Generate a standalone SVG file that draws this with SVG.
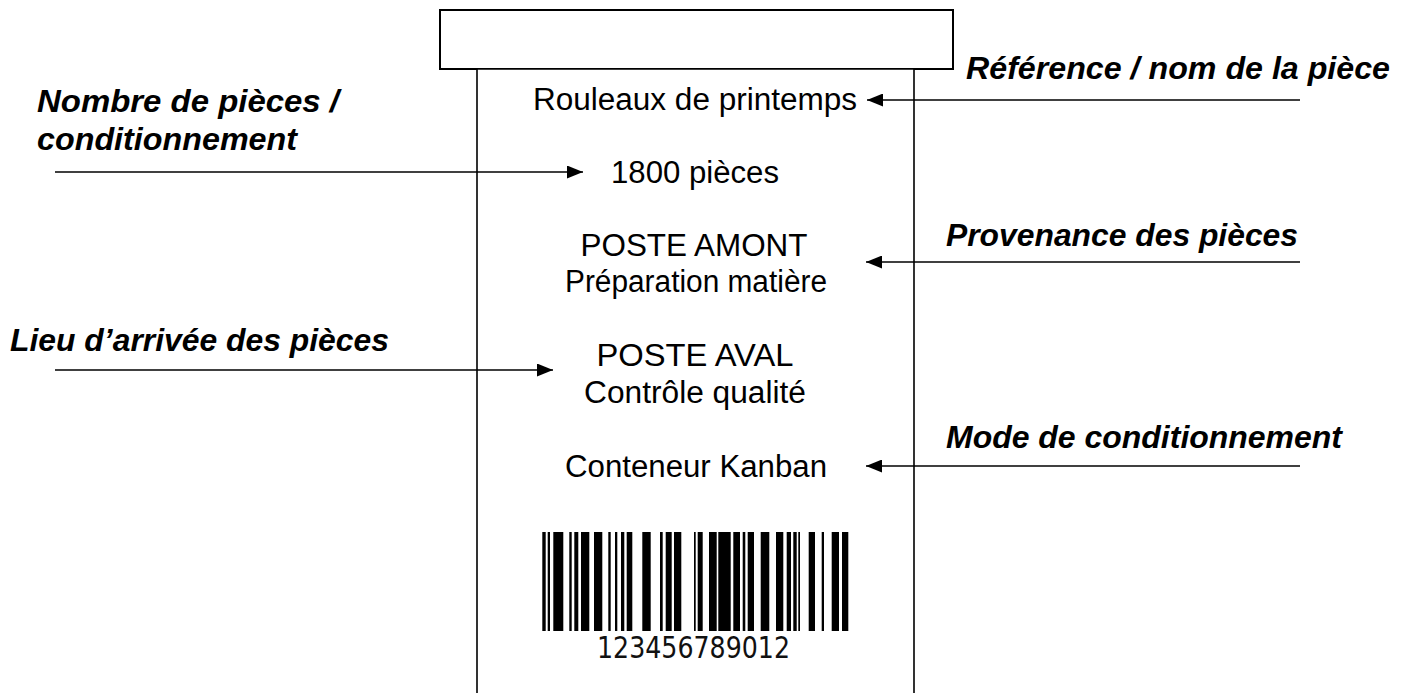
<svg xmlns="http://www.w3.org/2000/svg" width="1406" height="693" viewBox="0 0 1406 693">
<style>
.box{fill:#fff;stroke:#000;stroke-width:2}
.card{fill:#fff;stroke:#000;stroke-width:1.6}
.lbl{font-family:"Liberation Sans",Arial,sans-serif;font-size:31px;font-weight:bold;font-style:italic;fill:#000}
.txt{font-family:"Liberation Sans",Arial,sans-serif;font-size:31px;fill:#000;text-anchor:middle}
.conn{stroke:#000;stroke-width:1.6;fill:none}
.code{font-family:"DejaVu Sans Condensed","DejaVu Sans",sans-serif;font-size:31px;fill:#111}
</style>
<defs>
<marker id="ah" viewBox="0 0 16 13" refX="16" refY="6.5" markerWidth="16" markerHeight="13" markerUnits="userSpaceOnUse" orient="auto">
<path d="M0,0 L16,6.5 L0,13 Z" fill="#000"/>
</marker>
</defs>
<rect width="1406" height="693" fill="#fff"/>
<g id="header">
<rect class="box" x="440" y="10" width="513" height="59"/>
</g>
<g id="card">
<path class="card" d="M477,700 V69 H914 V700"/>
</g>
<g id="card-texts">
<text class="txt" x="695" y="110" textLength="324" lengthAdjust="spacingAndGlyphs">Rouleaux de printemps</text>
<text class="txt" x="695" y="183" textLength="168" lengthAdjust="spacingAndGlyphs">1800 pièces</text>
<text class="txt" x="694" y="256" textLength="227" lengthAdjust="spacingAndGlyphs">POSTE AMONT</text>
<text class="txt" x="696" y="292" textLength="262" lengthAdjust="spacingAndGlyphs">Préparation matière</text>
<text class="txt" x="695" y="366" textLength="197" lengthAdjust="spacingAndGlyphs">POSTE AVAL</text>
<text class="txt" x="695" y="403" textLength="222" lengthAdjust="spacingAndGlyphs">Contrôle qualité</text>
<text class="txt" x="696" y="477" textLength="262" lengthAdjust="spacingAndGlyphs">Conteneur Kanban</text>
</g>
<g id="barcode" fill="#000">
<rect x="542.3" y="532" width="3.4" height="99"/>
<rect x="547.7" y="532" width="2.3" height="99"/>
<rect x="553.3" y="532" width="10" height="99"/>
<rect x="569.3" y="532" width="2.4" height="99"/>
<rect x="574.3" y="532" width="4" height="99"/>
<rect x="581" y="532" width="8.3" height="99"/>
<rect x="594" y="532" width="8.3" height="99"/>
<rect x="608.3" y="532" width="2.4" height="99"/>
<rect x="615" y="532" width="2.3" height="99"/>
<rect x="621" y="532" width="3.3" height="99"/>
<rect x="626.7" y="532" width="5.6" height="99"/>
<rect x="642.3" y="532" width="8.4" height="99"/>
<rect x="660" y="532" width="2.7" height="99"/>
<rect x="665.7" y="532" width="6" height="99"/>
<rect x="674" y="532" width="7.3" height="99"/>
<rect x="694" y="532" width="1.7" height="99"/>
<rect x="697.7" y="532" width="5" height="99"/>
<rect x="709" y="532" width="7.7" height="99"/>
<rect x="718.3" y="532" width="12.4" height="99"/>
<rect x="733.3" y="532" width="6.7" height="99"/>
<rect x="742.7" y="532" width="2.6" height="99"/>
<rect x="747.7" y="532" width="6.3" height="99"/>
<rect x="760.7" y="532" width="8.6" height="99"/>
<rect x="776" y="532" width="7.3" height="99"/>
<rect x="786.7" y="532" width="4.3" height="99"/>
<rect x="793.3" y="532" width="3.4" height="99"/>
<rect x="798.3" y="532" width="1.7" height="99"/>
<rect x="808.7" y="532" width="6.3" height="99"/>
<rect x="821.7" y="532" width="2.3" height="99"/>
<rect x="831.7" y="532" width="7.3" height="99"/>
<rect x="842" y="532" width="6.3" height="99"/>
<text class="code" x="597" y="658" textLength="193" lengthAdjust="spacingAndGlyphs">123456789012</text>
</g>
<g id="labels">
<text class="lbl" x="966" y="79" textLength="424" lengthAdjust="spacingAndGlyphs">Référence / nom de la pièce</text>
<text class="lbl" x="37" y="112" textLength="302" lengthAdjust="spacingAndGlyphs">Nombre de pièces /</text>
<text class="lbl" x="37" y="150" textLength="260" lengthAdjust="spacingAndGlyphs">conditionnement</text>
<text class="lbl" x="946" y="246" textLength="352" lengthAdjust="spacingAndGlyphs">Provenance des pièces</text>
<text class="lbl" x="10" y="351" textLength="379" lengthAdjust="spacingAndGlyphs">Lieu d’arrivée des pièces</text>
<text class="lbl" x="946" y="448" textLength="396" lengthAdjust="spacingAndGlyphs">Mode de conditionnement</text>
</g>
<g id="connectors">
<line class="conn" x1="1300" y1="100" x2="867" y2="100" marker-end="url(#ah)"/>
<line class="conn" x1="55" y1="172" x2="583" y2="172" marker-end="url(#ah)"/>
<line class="conn" x1="1300" y1="262" x2="866" y2="262" marker-end="url(#ah)"/>
<line class="conn" x1="55" y1="370" x2="553" y2="370" marker-end="url(#ah)"/>
<line class="conn" x1="1300" y1="466" x2="866" y2="466" marker-end="url(#ah)"/>
</g>
</svg>
